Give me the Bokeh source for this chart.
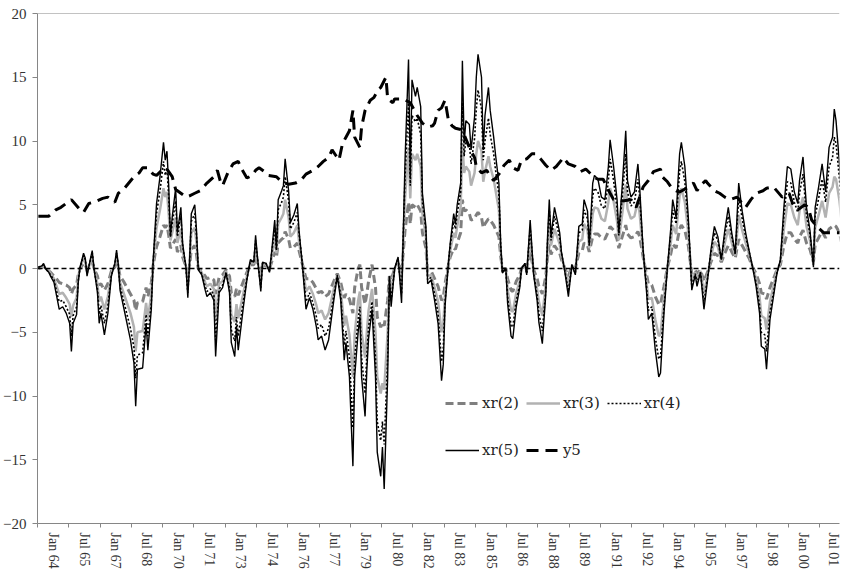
from bokeh.plotting import figure
from bokeh.models import Range1d, FixedTicker, Span, Legend
from bokeh.embed import file_html
from bokeh.resources import INLINE

# ---------------- data (months since start of sample; monthly observations) ----------------
tick_labels = ["Jan 64", "Jul 65", "Jan 67", "Jul 68", "Jan 70", "Jul 71", "Jan 73", "Jul 74",
               "Jan 76", "Jul 77", "Jan 79", "Jul 80", "Jan 82", "Jul 83", "Jan 85", "Jul 86",
               "Jan 88", "Jul 89", "Jan 91", "Jul 92", "Jan 94", "Jul 95", "Jan 97", "Jul 98",
               "Jan 00", "Jul 01"]
n_months = 461.5

months = [
    0, 2, 3, 4, 6, 7, 9, 11, 12, 14,
    16, 18, 19, 20, 22, 23, 24, 26, 27, 28,
    30, 31, 32, 34, 35, 36, 38, 40, 42, 44,
    45, 46, 47, 49, 51, 53, 55, 56, 57, 60,
    62, 63, 65, 66, 67, 68, 70, 72, 73, 74,
    75, 76, 77, 79, 80, 82, 83, 84, 85, 86,
    87, 88, 90, 91, 92, 94, 96, 97, 99, 101,
    102, 104, 106, 108, 110, 111, 113, 114, 115, 118,
    120, 122, 124, 125, 126, 128, 129, 131, 133, 134,
    136, 137, 138, 140, 141, 142, 144, 145, 147, 149,
    150, 152, 154, 156, 158, 160, 161, 163, 165, 167,
    170, 172, 174, 176, 177, 179, 181, 182, 184, 185,
    186, 188, 189, 190, 192, 194, 195, 197, 198, 199,
    201, 202, 203, 205, 207, 209, 211, 213, 214, 215,
    217, 218, 220, 221, 223, 224, 226, 228, 230, 232,
    233, 234, 236, 237, 239, 240, 241, 243, 244, 245,
    246, 248, 249, 251, 252, 253, 255, 256, 257, 259,
    260, 262, 263, 265, 266, 267, 269, 270, 272, 273,
    275, 277, 278, 280, 281, 283, 285, 287, 288, 290,
    292, 293, 294, 295, 297, 299, 300, 301, 303, 305,
    307, 309, 311, 313, 314, 316, 317, 319, 320, 322,
    324, 326, 328, 329, 331, 333, 334, 336, 338, 339,
    341, 343, 345, 346, 348, 350, 351, 353, 355, 357,
    358, 360, 362, 364, 365, 367, 368, 369, 370, 372,
    374, 376, 378, 379, 381, 383, 385, 387, 389, 391,
    393, 395, 397, 398, 399, 401, 403, 405, 407, 409,
    411, 413, 415, 416, 418, 419, 421, 423, 425, 427,
    429, 431, 433, 435, 437, 438, 440, 442, 444, 446,
    447, 449, 451, 453, 455, 457, 458, 459, 461, 463,
    464,
]

xr5 = [
    0.1, 0.2, 0.4, 0.0, -0.3, -0.6, -1.1, -2.5, -3.2, -3.0,
    -3.5, -4.3, -6.5, -4.3, -3.6, -1.0, 0.1, 1.2, 0.8, -0.6,
    0.8, 1.4, 0.0, -1.9, -4.3, -3.5, -5.2, -3.5, -0.6, 0.4,
    1.45, 0.3, -1.7, -3.0, -4.3, -5.6, -7.4, -10.8, -7.9, -7.8,
    -4.3, -6.4, -3.2, 0.4, 2.8, 5.1, 7.2, 9.9, 8.5, 9.2,
    6.5, 2.5, 4.0, 6.3, 2.8, 4.8, 2.0, 1.0, 0.0, -2.3,
    0.5, 4.3, 5.0, 3.0, -0.1, -0.5, -1.7, -2.2, -1.9, -2.5,
    -6.9, -1.9, -1.5, -0.35, -1.9, -5.8, -6.9, -4.5, -6.4, -3.0,
    -0.9, 0.7, 0.5, 2.6, 1.0, -1.8, 0.5, 0.4, -0.3, 1.0,
    3.8, 1.5, 5.4, 6.1, 6.5, 8.6, 6.1, 3.6, 4.2, 5.1,
    3.0, 0.15, -3.2, -2.3, -3.2, -4.6, -5.6, -5.3, -6.4, -5.6,
    -2.5, -0.6, -2.5, -7.2, -5.8, -8.5, -15.5, -8.5, -5.0, -3.8,
    -8.5, -11.6, -8.0, -5.5, -3.2, -8.5, -14.4, -16.3, -14.0, -17.3,
    -8.5, -0.6, -3.0, 0.0, 0.9, -2.7, 8.5, 16.4, 7.2, 14.8,
    13.5, 14.2, 12.7, 5.9, 3.3, -1.2, -0.9, -2.5, -4.3, -8.8,
    -7.5, -3.0, 0.5, 2.0, 4.3, 3.5, 5.0, 6.7, 16.3, 9.8,
    11.6, 11.3, 9.3, 11.9, 15.0, 16.8, 15.0, 9.3, 12.0, 14.2,
    12.4, 10.3, 9.0, 6.7, 2.0, -0.35, 0.0, -2.7, -5.3, -5.5,
    -3.0, -1.5, 0.0, 0.4, -0.5, 3.8, -0.5, -2.5, -4.2, -5.9,
    -2.0, 2.5, 5.4, 2.5, 4.8, 3.5, 2.8, 1.3, -0.3, -2.2,
    0.3, -0.5, 3.3, 3.5, 5.4, 4.5, 1.8, 6.7, 7.3, 7.0,
    5.6, 5.4, 8.0, 10.1, 8.0, 5.4, 2.8, 6.5, 10.8, 6.9,
    5.6, 6.0, 8.2, 6.4, 1.45, -1.9, -4.0, -3.5, -6.4, -8.5,
    -8.2, -3.5, 0.1, 3.3, 5.4, 4.0, 6.7, 9.0, 9.9, 8.0,
    4.0, -1.7, -0.5, -1.4, -0.3, -3.2, -1.0, 1.45, 3.3, 2.5,
    0.7, 3.0, 4.8, 3.8, 2.8, 1.2, 6.7, 4.5, 2.8, 1.4,
    0.1, -1.4, -3.5, -6.1, -6.3, -7.9, -4.0, -2.2, -0.4, 0.7,
    4.8, 8.0, 7.8, 6.0, 5.1, 6.9, 8.75, 4.8, 3.0, 0.1,
    4.8, 6.4, 8.2, 6.0, 9.5, 10.3, 12.5, 11.6, 8.2, 3.3,
    3.3,
]

xr4 = [
    0.1, 0.2, 0.3, 0.0, -0.3, -0.5, -0.9, -2.1, -2.6, -2.5,
    -3.0, -3.6, -5.3, -3.7, -3.0, -0.9, 0.1, 1.0, 0.7, -0.4,
    0.7, 1.2, 0.0, -1.6, -3.6, -2.9, -4.3, -2.9, -0.5, 0.3,
    1.2, 0.3, -1.4, -2.5, -3.6, -4.7, -6.2, -8.6, -6.8, -6.6,
    -3.6, -5.3, -2.7, 0.3, 2.4, 4.3, 6.1, 8.4, 7.3, 7.9,
    5.6, 2.5, 3.5, 5.3, 2.5, 4.1, 1.8, 0.9, 0.0, -1.9,
    0.4, 3.7, 4.3, 2.6, 0.0, -0.4, -1.4, -1.8, -1.6, -2.1,
    -5.6, -1.6, -1.3, -0.3, -1.6, -4.8, -5.7, -3.8, -5.3, -2.5,
    -0.8, 0.6, 0.5, 2.2, 0.9, -1.5, 0.4, 0.4, -0.2, 0.9,
    3.2, 1.4, 4.6, 5.2, 5.6, 7.2, 5.3, 3.1, 3.6, 4.4,
    2.7, 0.3, -2.6, -1.9, -2.7, -3.8, -4.7, -4.4, -5.3, -4.7,
    -2.1, -0.5, -2.1, -6.0, -4.9, -7.0, -12.5, -7.0, -4.0, -3.0,
    -7.0, -9.8, -6.8, -4.6, -2.6, -7.0, -12.0, -13.5, -12.0, -13.8,
    -7.0, -0.8, -2.5, 0.0, 0.8, -2.0, 7.2, 13.0, 6.5, 12.0,
    11.5, 11.8, 10.5, 5.2, 3.0, -0.9, -0.7, -2.0, -3.5, -7.3,
    -6.2, -2.6, 0.5, 1.8, 3.7, 3.1, 4.3, 6.0, 13.0, 8.8,
    10.0, 9.8, 8.2, 10.2, 12.5, 14.0, 12.5, 8.5, 10.0, 11.8,
    10.5, 9.0, 7.8, 5.8, 1.8, -0.3, 0.0, -2.2, -4.5, -4.6,
    -2.5, -1.3, 0.0, 0.4, -0.4, 3.2, -0.4, -2.1, -3.5, -4.9,
    -1.7, 2.1, 4.6, 2.2, 4.1, 3.0, 2.4, 1.2, -0.2, -1.8,
    0.3, -0.4, 2.8, 3.0, 4.6, 3.9, 1.8, 5.7, 6.3, 6.0,
    4.9, 4.7, 6.9, 8.6, 6.9, 4.7, 2.6, 5.6, 9.0, 6.0,
    4.9, 5.2, 7.0, 5.6, 1.4, -1.5, -3.3, -3.0, -5.4, -7.1,
    -6.9, -3.0, 0.1, 2.8, 4.6, 3.5, 5.7, 7.6, 8.4, 6.8,
    3.5, -1.4, -0.4, -1.1, -0.3, -2.6, -0.8, 1.2, 2.8, 2.2,
    0.7, 2.6, 4.1, 3.3, 2.5, 1.1, 5.6, 3.9, 2.5, 1.3,
    0.1, -1.1, -2.9, -5.0, -5.2, -6.5, -3.4, -1.9, -0.3, 0.6,
    4.1, 6.8, 6.7, 5.2, 4.4, 5.9, 7.4, 4.2, 2.7, 0.3,
    4.1, 5.5, 7.0, 5.2, 8.0, 8.7, 10.3, 9.8, 7.0, 2.9,
    2.8,
]

xr3 = [
    0.0, 0.1, 0.3, 0.0, -0.2, -0.4, -0.8, -1.6, -2.0, -1.9,
    -2.3, -2.8, -3.8, -2.9, -2.3, -0.6, 0.1, 0.8, 0.5, -0.3,
    0.5, 0.9, 0.0, -1.2, -2.6, -2.2, -3.2, -2.2, -0.4, 0.3,
    0.9, 0.2, -1.1, -1.9, -2.7, -3.5, -4.6, -6.5, -5.0, -4.9,
    -2.7, -4.0, -2.0, 0.3, 1.8, 3.2, 4.6, 6.3, 5.6, 6.0,
    4.3, 2.2, 2.8, 4.0, 2.0, 3.1, 1.4, 0.7, 0.1, -1.3,
    0.4, 2.8, 3.2, 2.0, 0.0, -0.3, -1.1, -1.4, -1.2, -1.6,
    -4.1, -1.2, -1.0, -0.2, -1.2, -3.6, -4.2, -2.8, -3.9, -1.9,
    -0.6, 0.5, 0.4, 1.7, 0.7, -1.0, 0.4, 0.3, -0.1, 0.7,
    2.4, 1.2, 3.5, 4.0, 4.3, 5.4, 4.0, 2.5, 2.8, 3.4,
    2.1, 0.3, -1.8, -1.4, -2.0, -2.9, -3.5, -3.3, -4.0, -3.5,
    -1.6, -0.5, -1.7, -4.5, -3.7, -5.2, -8.5, -5.2, -2.5, -1.8,
    -5.0, -7.0, -5.0, -3.3, -1.6, -5.0, -8.5, -9.8, -9.0, -9.5,
    -5.0, -0.8, -1.8, 0.0, 0.6, -1.2, 5.5, 9.5, 5.5, 9.0,
    8.5, 9.0, 8.0, 4.3, 2.5, -0.6, -0.5, -1.5, -2.6, -5.0,
    -4.5, -2.0, 0.4, 1.4, 2.8, 2.4, 3.3, 4.8, 9.8, 7.5,
    8.0, 7.6, 6.5, 7.5, 9.0, 10.0, 9.2, 6.8, 7.6, 8.8,
    8.0, 7.0, 6.2, 4.6, 1.5, -0.2, 0.0, -1.6, -3.3, -3.4,
    -1.9, -1.0, 0.0, 0.3, -0.3, 2.4, -0.3, -1.6, -2.6, -3.7,
    -1.2, 1.6, 3.4, 1.8, 3.1, 2.3, 1.9, 1.0, -0.1, -1.3,
    0.2, -0.2, 2.1, 2.3, 3.5, 3.0, 1.6, 4.3, 4.8, 4.7,
    3.9, 3.7, 5.2, 6.3, 5.3, 3.7, 2.2, 4.3, 6.6, 4.7,
    3.9, 4.1, 5.3, 4.3, 1.2, -1.1, -2.4, -2.3, -4.0, -5.3,
    -5.2, -2.3, 0.1, 2.1, 3.4, 2.7, 4.3, 5.7, 6.3, 5.2,
    2.8, -1.0, -0.3, -0.8, -0.2, -1.9, -0.6, 0.9, 2.1, 1.7,
    0.6, 2.0, 3.1, 2.6, 2.0, 1.0, 4.2, 3.0, 2.0, 1.1,
    0.1, -0.8, -2.2, -3.7, -3.9, -4.8, -2.6, -1.4, -0.2, 0.5,
    3.1, 5.1, 5.0, 4.0, 3.4, 4.5, 5.6, 3.3, 2.2, 0.4,
    3.2, 4.2, 5.3, 4.0, 5.9, 6.4, 7.2, 7.0, 5.3, 2.6,
    2.7,
]

xr2 = [
    0.0, 0.1, 0.2, 0.0, -0.2, -0.3, -0.6, -0.9, -1.1, -1.2,
    -1.3, -1.5, -2.0, -1.6, -1.3, -0.4, 0.0, 0.4, 0.3, -0.1,
    0.3, 0.5, 0.0, -0.6, -1.3, -1.2, -1.7, -1.2, -0.2, 0.1,
    0.5, 0.1, -0.6, -1.0, -1.5, -2.0, -2.5, -3.3, -2.7, -2.6,
    -1.5, -2.2, -1.1, 0.2, 1.0, 1.7, 2.5, 3.4, 3.2, 3.4,
    2.6, 1.6, 1.8, 2.3, 1.3, 1.8, 0.9, 0.5, 0.1, -0.6,
    0.2, 1.5, 1.8, 1.1, 0.0, -0.2, -0.6, -0.8, -0.7, -0.9,
    -2.0, -0.7, -0.5, -0.1, -0.6, -1.9, -2.2, -1.6, -2.1, -1.0,
    -0.3, 0.3, 0.3, 1.0, 0.5, -0.4, 0.3, 0.2, 0.0, 0.4,
    1.3, 0.9, 2.0, 2.3, 2.4, 2.9, 2.3, 1.6, 1.7, 2.0,
    1.4, 0.3, -0.8, -0.8, -1.1, -1.6, -1.9, -1.8, -2.2, -2.0,
    -1.0, -0.4, -1.1, -2.3, -2.0, -2.4, -3.5, -1.5, 0.0, 0.3,
    -1.5, -2.8, -2.0, -1.0, 0.3, -1.5, -3.8, -4.6, -4.2, -4.5,
    -2.5, -0.6, -0.9, 0.0, 0.4, -0.3, 3.0, 5.2, 3.5, 5.0,
    4.8, 5.0, 4.5, 2.8, 1.6, -0.2, -0.2, -0.8, -1.4, -2.5,
    -2.3, -1.2, 0.3, 0.9, 1.6, 1.5, 2.0, 2.8, 5.4, 4.5,
    4.6, 4.3, 3.8, 3.9, 4.2, 4.4, 4.0, 3.2, 3.5, 3.9,
    3.8, 3.4, 3.1, 2.5, 1.0, 0.0, 0.0, -0.8, -1.7, -1.8,
    -1.0, -0.5, 0.0, 0.2, -0.1, 1.3, -0.1, -0.8, -1.4, -2.0,
    -0.6, 0.9, 1.9, 1.1, 1.8, 1.4, 1.2, 0.7, 0.0, -0.6,
    0.2, 0.0, 1.2, 1.4, 2.0, 1.8, 1.3, 2.5, 2.7, 2.7,
    2.4, 2.3, 2.9, 3.3, 3.0, 2.3, 1.6, 2.5, 3.4, 2.7,
    2.4, 2.5, 2.9, 2.5, 0.9, -0.5, -1.2, -1.3, -2.2, -2.8,
    -2.8, -1.4, 0.1, 1.2, 1.9, 1.6, 2.4, 3.1, 3.4, 3.0,
    1.8, -0.4, -0.1, -0.4, -0.1, -1.0, -0.3, 0.5, 1.2, 1.0,
    0.5, 1.2, 1.8, 1.6, 1.3, 0.8, 2.3, 1.8, 1.3, 0.8,
    0.1, -0.4, -1.2, -1.9, -2.0, -2.4, -1.5, -0.8, -0.1, 0.3,
    1.8, 2.8, 2.8, 2.3, 2.0, 2.5, 3.0, 2.0, 1.5, 0.5,
    1.9, 2.4, 2.9, 2.4, 3.1, 3.3, 3.4, 3.3, 2.8, 1.5,
    1.0,
]

y5_months = [
    0, 6, 10, 13, 19, 24, 26, 29, 32, 37, 40, 44, 46, 49, 55, 58, 60, 63, 66, 68,
    71, 74, 77, 79, 82, 85, 87, 90, 93, 97, 101, 103, 105, 106, 109, 112, 115, 117, 120, 123,
    125, 127, 130, 132, 137, 140, 144, 148, 151, 154, 158, 161, 164, 167, 169, 171, 173, 175, 177, 179,
    180, 181, 182, 185, 186, 188, 191, 193, 196, 197, 200, 201, 204, 205, 210, 214, 218, 221, 224, 227,
    228, 230, 232, 234, 236, 238, 240, 243, 245, 248, 251, 252, 255, 258, 260, 262, 265, 268, 271, 273,
    276, 278, 281, 284, 286, 289, 292, 295, 298, 301, 302, 305, 309, 312, 315, 318, 319, 322, 325, 329,
    331, 336, 341, 344, 348, 351, 354, 358, 359, 362, 364, 367, 369, 373, 377, 379, 381, 384, 385, 389,
    392, 395, 398, 402, 407, 410, 413, 417, 419, 423, 428, 432, 434, 437, 441, 443, 445, 448, 452, 455,
    459, 463, 465,
]
y5 = [
    4.1, 4.1, 4.6, 4.8, 5.4, 4.6, 4.4, 5.1, 5.2, 5.5, 5.6, 5.2, 5.9, 6.2, 7.2, 7.5, 7.9, 7.9, 7.4, 7.3,
    7.7, 7.8, 7.2, 6.2, 5.9, 5.6, 5.7, 5.9, 6.1, 6.7, 7.2, 7.7, 6.7, 6.5, 7.5, 8.2, 8.4, 7.8, 7.1, 7.3,
    7.7, 7.9, 7.6, 7.3, 7.2, 6.8, 6.6, 6.7, 6.9, 7.4, 7.7, 8.0, 8.4, 8.7, 9.3, 8.9, 8.5, 9.8, 10.3, 10.8,
    11.6, 12.4, 10.3, 9.5, 11.1, 12.4, 13.2, 13.4, 14.1, 14.2, 15.0, 13.3, 13.0, 13.3, 13.3, 13.0, 12.0, 11.4, 11.1, 11.2,
    11.4, 12.4, 12.6, 13.2, 11.6, 11.2, 11.0, 10.9, 10.5, 9.5, 8.7, 8.0, 7.5, 7.7, 7.2, 6.9, 7.4, 8.1, 8.5, 7.9,
    7.7, 8.5, 8.6, 9.0, 9.0, 8.6, 8.1, 7.7, 8.0, 8.5, 8.7, 8.2, 8.0, 7.6, 7.8, 7.4, 7.2, 7.0, 7.0, 5.9,
    5.4, 5.3, 5.4, 4.8, 6.4, 6.9, 7.6, 7.8, 7.2, 6.8, 6.4, 6.1, 6.0, 6.3, 6.7, 6.1, 6.5, 6.9, 6.7, 6.1,
    5.9, 5.6, 5.4, 5.6, 4.8, 5.4, 5.9, 6.1, 6.3, 6.4, 5.6, 5.9, 5.1, 4.6, 5.0, 4.8, 3.8, 3.3, 2.8, 2.8,
    2.8, 2.8, 3.3,
]

# ---------------- figure ----------------
n = min(len(months), len(xr2), len(xr3), len(xr4), len(xr5))
x = [m + 0.5 for m in months[:n]]
xy5 = [m + 0.5 for m in y5_months[:len(y5)]]

AX = "#868686"
p = figure(width=840, height=571, output_backend="svg", toolbar_location=None,
           x_range=Range1d(0, n_months), y_range=Range1d(-20, 20),
           min_border_left=31, min_border_right=1, min_border_top=13, min_border_bottom=47)
p.outline_line_color = None
p.background_fill_color = "white"
p.border_fill_color = "white"
p.xgrid.visible = False
p.ygrid.visible = False

# y axis
p.yaxis.ticker = FixedTicker(ticks=list(range(-20, 21, 5)))
p.yaxis.axis_line_color = AX
p.yaxis.major_tick_line_color = AX
p.yaxis.major_tick_out = 5
p.yaxis.major_tick_in = 0
p.yaxis.minor_tick_line_color = None
p.yaxis.major_label_standoff = 6
p.yaxis.major_label_text_font = "Liberation Serif"
p.yaxis.major_label_text_font_size = "15px"
p.yaxis.major_label_text_color = "#333333"

# x axis: labels centred between the tick marks
lab_pos = [9 + 18 * k for k in range(len(tick_labels))]
p.xaxis.ticker = FixedTicker(ticks=lab_pos, minor_ticks=[18 * k for k in range(len(tick_labels) + 1)])
p.xaxis.major_label_overrides = {pos: lab for pos, lab in zip(lab_pos, tick_labels)}
p.xaxis.axis_line_color = AX
p.xaxis.major_tick_line_color = None
p.xaxis.major_tick_out = 0
p.xaxis.major_tick_in = 0
p.xaxis.minor_tick_line_color = AX
p.xaxis.minor_tick_out = 4
p.xaxis.minor_tick_in = 0
p.xaxis.major_label_orientation = "vertical"
p.xaxis.major_label_standoff = 5
p.xaxis.major_label_text_font = "Liberation Serif"
p.xaxis.major_label_text_font_size = "14px"
p.xaxis.major_label_text_color = "#333333"

# frame top line and zero line
p.add_layout(Span(location=20, dimension="width", line_color=AX, line_width=1))
p.add_layout(Span(location=0, dimension="width", line_color="black", line_width=1.5, line_dash="5 3"))

r2 = p.line(x, xr2[:n], line_color="#7f7f7f", line_width=3, line_dash="8 4")
r3 = p.line(x, xr3[:n], line_color="#b2b2b2", line_width=2.5)
r4 = p.line(x, xr4[:n], line_color="black", line_width=1.6, line_dash="2 2")
r5 = p.line(x, xr5[:n], line_color="black", line_width=1.4)
ry = p.line(xy5, y5, line_color="black", line_width=3, line_dash="12 7")

common = dict(orientation="horizontal", padding=0, margin=0, spacing=7,
              glyph_width=34, glyph_height=20, label_standoff=3, label_height=20,
              label_text_font="DejaVu Serif", label_text_font_size="15px",
              label_text_color="#222222", border_line_color=None,
              background_fill_alpha=0)
leg1 = Legend(items=[("xr(2)", [r2]), ("xr(3)", [r3]), ("xr(4)", [r4])], location=(408, 110), **common)
leg2 = Legend(items=[("xr(5)", [r5]), ("y5", [ry])], location=(408, 63), **common)
p.add_layout(leg1)
p.add_layout(leg2)

open("out.html", "w").write(file_html(p, INLINE))
